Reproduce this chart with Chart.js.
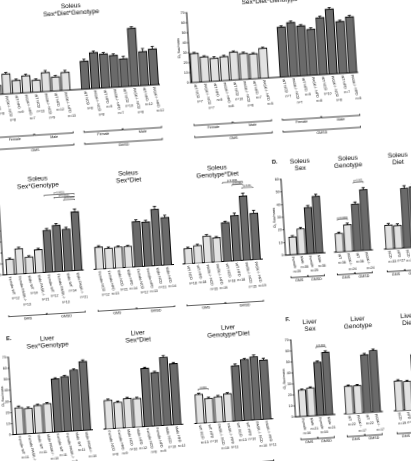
<!DOCTYPE html>
<html><head><meta charset="utf-8">
<script src="https://cdn.jsdelivr.net/npm/chart.js@4.4.1/dist/chart.umd.min.js"></script>
<style>
html,body{margin:0;padding:0;background:#fff;overflow:hidden;width:411px;height:461px;}
#fig{position:absolute;left:0;top:0;width:411px;height:461px;transform-origin:205.5px 230.5px;transform:rotate(-3.5deg);}
#fig canvas{position:absolute;}
.letter{position:absolute;font:bold 5.5px 'Liberation Sans',Arial,sans-serif;color:#000;line-height:1;}
</style></head><body><div id="fig"></div>
<script>
// ---------- DATA ----------
// A: Soleus Sex*Diet*Genotype
const aLabels = ['WT NCD','PASK-/- NCD','WT HFD','PASK-/- HFD','WT NCD','PASK-/- NCD','WT HFD','PASK-/- HFD','WT NCD','PASK-/- NCD','WT HFD','PASK-/- HFD','WT NCD','PASK-/- NCD','WT HFD','PASK-/- HFD'];
const aN = ['n=8','n=8','n=9','n=7','n=13','n=9','n=12','n=13','n=8','n=8','n=9','n=7','n=10','n=8','n=12','n=12'];
const aSex = ['Female','Female','Female','Female','Male','Male','Male','Male','Female','Female','Female','Female','Male','Male','Male','Male'];
const aProtocol = ['GMS','GMS','GMS','GMS','GMS','GMS','GMS','GMS','GMSD','GMSD','GMSD','GMSD','GMSD','GMSD','GMSD','GMSD'];
const aValues = [9,20,13,17,12,19,14,18,28,36,34,32,28,58,34,36];
const aErrors = [1.2,1.5,1.2,1.5,1.2,2,1.5,2,2,1.5,1.5,1.5,2.5,1.5,3,2.5];

// B: Liver Sex*Diet*Genotype
const bLabels = aLabels.slice();
const bN = ['n=7','n=7','n=5','n=8','n=10','n=8','n=7','n=5','n=7','n=7','n=5','n=8','n=10','n=8','n=7','n=5'];
const bSex = aSex.slice();
const bProtocol = aProtocol.slice();
const bValues = [29,25,23,24,28,26,25,30,50,54,50,46,57,65,52,56];
const bErrors = [1,1,1.5,1.2,1,1.2,1,1,1.2,1.5,1.2,1.5,1.5,1.5,1.2,1.5];

// C: Soleus two-way
const sexGenoLabels = ['Female WT','Female PASK-/-','Male WT','Male PASK-/-','Female WT','Female PASK-/-','Male WT','Male PASK-/-'];
const sexDietLabels = ['Female NCD','Female HFD','Male NCD','Male HFD','Female NCD','Female HFD','Male NCD','Male HFD'];
const genoDietLabels = ['WT NCD','WT HFD','PASK-/- NCD','PASK-/- HFD','WT NCD','WT HFD','PASK-/- NCD','PASK-/- HFD'];
const protocol8 = ['GMS','GMS','GMS','GMS','GMSD','GMSD','GMSD','GMSD'];
const protocol4 = ['GMS','GMS','GMSD','GMSD'];

const c1N = ['n=12','n=13','n=14','n=21','n=12','n=13','n=14','n=21'];
const c1Values = [14,23,15,21,38,42,38,53];
const c1Errors = [1,1.2,1,1.2,1.5,1.5,1.5,2.5];
const c1Sig = [[4,7,69.5,'p<0.0001'],[5,7,67,'p<0.0001'],[6,7,64.5,'p<0.001']];

const c2N = ['n=12','n=13','n=21','n=14','n=12','n=13','n=21','n=14'];
const c2Values = [20,18.5,19,19,41,40,51,43];
const c2Errors = [1.2,1,1,1,1.5,1.5,2.5,2];

const c3N = ['n=18','n=18','n=15','n=19','n=18','n=18','n=15','n=19'];
const c3Values = [14,16,24,22,35,41,58,42];
const c3Errors = [1,1,1.2,1,1.2,2,2.5,2.5];
const c3Sig = [[4,6,71,'p<0.0001'],[5,6,68.5,'p<0.001'],[6,7,65.5,'p<0.01']];

// D: Soleus one-way
const sexLabels = ['Female','Male','Female','Male'];
const genoLabels = ['WT','PASK-/-','WT','PASK-/-'];
const dietLabels = ['NCD','HFD','NCD','HFD'];
const d1N = ['n=25','n=35','n=25','n=35'];
const d1Values = [14,20,36.5,45];
const d1Errors = [1,1,1.5,1.5];
const d2N = ['n=36','n=24','n=36','n=24'];
const d2Values = [14.5,21,37,48];
const d2Errors = [1,1.2,1.5,1.5];
const d2Sig = [[0,1,25.5,'p<0.0001'],[2,3,54,'p<0.001']];
const d3N = ['n=33','n=27','n=33','n=27'];
const d3Values = [18.7,18,47,48];
const d3Errors = [1.2,1.2,2,2];

// E: Liver two-way
const e1N = ['n=11','n=9','n=11','n=10','n=11','n=9','n=11','n=10'];
const e1Values = [24,23,25,26,48,49.5,55,62];
const e1Errors = [1.5,1,1,1,1,1,1,1.5];
const e2N = ['n=8','n=9','n=10','n=12','n=8','n=9','n=10','n=12'];
const e2Values = [25.8,23.4,26.4,25.8,52.5,48.3,61.5,55.2];
const e2Errors = [1,1,1,1,1,1,1.5,1];
const e3N = ['n=13','n=10','n=10','n=11','n=13','n=10','n=10','n=11'];
const e3Values = [26,22,23,25,50,55,57,53.5];
const e3Errors = [1,1,1,1,1.5,1,1.5,1.5];
const e3Sig = [[0,1,30.5,'0.004']];

// F: Liver one-way
const f1N = ['n=16','n=21','n=16','n=21'];
const f1Values = [24,25.5,48.5,57];
const f1Errors = [1,0.8,1,1.2];
const f1Sig = [[2,3,62,'p<0.001']];
const f2N = ['n=22','n=17','n=22','n=17'];
const f2Values = [25,25,52.7,56];
const f2Errors = [1,1,1,1.2];
const f3N = ['n=19','n=18','n=19','n=18'];
const f3Values = [27,26,50,52];
const f3Errors = [1,1,1,1];

const yTickMax70 = 70, yTickMax60 = 60;

// ---------- STYLE ----------
const FONT = "'Liberation Sans', Arial, sans-serif";
const LIGHT = '#e2e2e2', DARK = '#6a6a6a';
Chart.defaults.font.family = FONT;
Chart.defaults.color = '#000';
const fig = document.getElementById('fig');

function positions(protocol, gap){
  const xs=[]; let x=0;
  protocol.forEach((p,i)=>{ if(i>0 && gap && p!==protocol[i-1]) x+=1; xs.push(x); x+=1; });
  return xs;
}
function runs(keys){
  const out=[];
  keys.forEach((k,i)=>{ const l=out[out.length-1]; if(l && l.key===k) l.end=i; else out.push({key:k,start:i,end:i}); });
  return out;
}

function makePlugin(p, xs, slot){
  return {
    id:'panel'+Math.floor(Math.random()*1e9),
    afterDatasetsDraw(chart){
      const ctx=chart.ctx, y=chart.scales.y, meta=chart.getDatasetMeta(0);
      ctx.save(); ctx.strokeStyle='#000'; ctx.lineWidth=0.85;
      meta.data.forEach((el,i)=>{
        const top=y.getPixelForValue(p.values[i]+p.errors[i]);
        ctx.beginPath(); ctx.moveTo(el.x, el.y); ctx.lineTo(el.x, top);
        ctx.moveTo(el.x-1.6, top); ctx.lineTo(el.x+1.6, top); ctx.stroke();
      });
      ctx.restore();
    },
    afterDraw(chart){
      const ctx=chart.ctx, xS=chart.scales.x, yS=chart.scales.y, ca=chart.chartArea;
      ctx.save();
      ctx.fillStyle='#000'; ctx.textAlign='center'; ctx.textBaseline='middle';
      ctx.font='6.5px '+FONT;
      const cx=(ca.left+ca.right)/2;
      p.title.forEach((t,k)=>ctx.fillText(t, cx, ca.top+p.titleOff[k]));
      const ang=80*Math.PI/180;
      p.labels.forEach((t,i)=>{
        const px=xS.getPixelForValue(xs[i])-1;
        const py=ca.bottom+2;
        ctx.font='3.6px '+FONT;
        const w=ctx.measureText(t).width;
        ctx.save(); ctx.translate(px,py); ctx.rotate(ang);
        ctx.textAlign='left'; ctx.textBaseline='middle'; ctx.fillText(t,0,0); ctx.restore();
        const ex=px+Math.cos(ang)*w, ey=py+Math.sin(ang)*w;
        ctx.textAlign='center'; ctx.textBaseline='top'; ctx.font='3.4px '+FONT;
        ctx.fillText(p.n[i], ex+1.5, ey+1.8);
      });
      ctx.strokeStyle='#000'; ctx.lineWidth=0.7; ctx.font='3.6px '+FONT;
      p.brackets.forEach(br=>{
        runs(br.keys).forEach(r=>{
          const x1=xS.getPixelForValue(xs[r.start])-slot*0.45;
          const x2=xS.getPixelForValue(xs[r.end])+slot*0.45;
          const yy=ca.bottom+br.off;
          ctx.beginPath(); ctx.moveTo(x1,yy-1.5); ctx.lineTo(x1,yy); ctx.lineTo(x2,yy); ctx.lineTo(x2,yy-1.5); ctx.stroke();
          ctx.textAlign='center'; ctx.textBaseline='top';
          ctx.fillText(br.text(r.start), (x1+x2)/2, yy+1.2);
        });
      });
      (p.sig||[]).forEach(s=>{
        const x1=xS.getPixelForValue(s[0])-0.5, x2=xS.getPixelForValue(s[1])+0.5, yy=yS.getPixelForValue(s[2]);
        ctx.lineWidth=0.5;
        ctx.beginPath(); ctx.moveTo(x1,yy+1); ctx.lineTo(x1,yy); ctx.lineTo(x2,yy); ctx.lineTo(x2,yy+1); ctx.stroke();
        ctx.font='2.5px '+FONT; ctx.textAlign='center'; ctx.textBaseline='bottom';
        ctx.fillText(s[3], (x1+x2)/2, yy-0.3);
      });
      ctx.restore();
    }
  };
}

function makePanel(p){
  const yw = p.yAxis ? p.yw : 0;
  const pl=2, pt=28;
  const cl=p.L-pl-yw, ct=p.T-pt;
  const cw=Math.ceil(p.R-cl+3), ch=Math.ceil(p.B-ct+p.pb);
  const pr=cw-(p.R-cl), pb=ch-(p.B-ct);
  const cv=document.createElement('canvas');
  cv.width=cw; cv.height=ch;
  cv.style.left=cl+'px'; cv.style.top=ct+'px'; cv.style.width=cw+'px'; cv.style.height=ch+'px';
  fig.appendChild(cv);
  const xs=positions(p.protocol, p.gap);
  const slot=(p.R-p.L)/(p.xmax-p.xmin);
  new Chart(cv,{
    type:'bar',
    data:{datasets:[{
      data:p.values.map((v,i)=>({x:xs[i],y:v})),
      backgroundColor:p.protocol.map(c=>c==='GMS'?LIGHT:DARK),
      borderColor:'#000', borderWidth:0.9, barThickness:slot*p.barPct
    }]},
    options:{
      responsive:false, animation:false, devicePixelRatio:2,
      layout:{padding:{left:pl,right:pr,top:pt,bottom:pb}},
      plugins:{legend:{display:false},tooltip:{enabled:false},title:{display:false}},
      scales:{
        x:{type:'linear',offset:false,bounds:'data',min:p.xmin,max:p.xmax,ticks:{display:false},grid:{display:false,offset:false},
           border:{display:true,color:'#000',width:0.9},afterFit:s=>{s.height=0;}},
        y:{display:p.yAxis,min:0,max:p.ymax,
           ticks:{stepSize:10,font:{size:3.6,family:FONT},color:'#000',padding:0.8},
           grid:{drawOnChartArea:false,drawTicks:true,tickLength:1.5,color:'#000',lineWidth:0.7},
           border:{display:true,color:'#000',width:0.9},
           title:{display:true,text:'O₂ flux/mass',font:{size:3.6,family:FONT},color:'#000',padding:0},
           afterFit:s=>{s.width=yw;}}
      }
    },
    plugins:[makePlugin(p,xs,slot)]
  });
}

const ttlAB=[-14,-7], ttlCE=[-16.5,-9.5], ttlDF=[-17,-10];
const protoBracket = (proto)=>({keys:proto, text:i=>proto[i]});

makePanel({L:1.3,R:168.8,T:12,B:82,xmin:-0.5,xmax:16.5,gap:true,yAxis:true,yw:12,ymax:yTickMax70,barPct:0.85,pb:66,
  labels:aLabels,n:aN,protocol:aProtocol,values:aValues,errors:aErrors,title:['Soleus','Sex*Diet*Genotype'],titleOff:ttlAB,
  brackets:[{keys:aProtocol.map((c,i)=>c+aSex[i]),text:i=>aSex[i],off:43},{keys:aProtocol,text:i=>aProtocol[i],off:55}]});
makePanel({L:199.5,R:366.6,T:12,B:82,xmin:-0.5,xmax:16.5,gap:true,yAxis:true,yw:12,ymax:yTickMax70,barPct:0.85,pb:66,
  labels:bLabels,n:bN,protocol:bProtocol,values:bValues,errors:bErrors,title:['Liver','Sex*Diet*Genotype'],titleOff:ttlAB,
  brackets:[{keys:bProtocol.map((c,i)=>c+bSex[i]),text:i=>bSex[i],off:43},{keys:bProtocol,text:i=>bProtocol[i],off:55}]});

makePanel({L:1,R:80.9,T:184.6,B:262.3,xmin:-0.75,xmax:7.5,yAxis:true,yw:10,ymax:yTickMax70,barPct:0.82,pb:52,
  labels:sexGenoLabels,n:c1N,protocol:protocol8,values:c1Values,errors:c1Errors,sig:c1Sig,title:['Soleus','Sex*Genotype'],titleOff:ttlCE,
  brackets:[{...protoBracket(protocol8),off:42}]});
makePanel({L:92.2,R:171.7,T:184.6,B:262.3,xmin:-0.6,xmax:7.6,yAxis:false,ymax:yTickMax70,barPct:0.82,pb:52,
  labels:sexDietLabels,n:c2N,protocol:protocol8,values:c2Values,errors:c2Errors,title:['Soleus','Sex*Diet'],titleOff:ttlCE,
  brackets:[{...protoBracket(protocol8),off:42}]});
makePanel({L:181.2,R:260.7,T:184.6,B:262.3,xmin:-0.6,xmax:7.6,yAxis:false,ymax:yTickMax70,barPct:0.82,pb:52,
  labels:genoDietLabels,n:c3N,protocol:protocol8,values:c3Values,errors:c3Errors,sig:c3Sig,title:['Soleus','Genotype*Diet'],titleOff:ttlCE,
  brackets:[{...protoBracket(protocol8),off:42}]});

makePanel({L:284,R:323.7,T:184.2,B:260.1,xmin:-0.915,xmax:3.7,yAxis:true,yw:11,ymax:yTickMax60,barPct:0.88,pb:34,
  labels:sexLabels,n:d1N,protocol:protocol4,values:d1Values,errors:d1Errors,title:['Soleus','Sex'],titleOff:ttlDF,
  brackets:[{...protoBracket(protocol4),off:23}]});
makePanel({L:333.1,R:370.9,T:184.2,B:260.1,xmin:-0.6,xmax:3.6,yAxis:false,ymax:yTickMax60,barPct:0.86,pb:34,
  labels:genoLabels,n:d2N,protocol:protocol4,values:d2Values,errors:d2Errors,sig:d2Sig,title:['Soleus','Genotype'],titleOff:ttlDF,
  brackets:[{...protoBracket(protocol4),off:23}]});
makePanel({L:383.1,R:420.9,T:184.2,B:260.1,xmin:-0.6,xmax:3.6,yAxis:false,ymax:yTickMax60,barPct:0.86,pb:34,
  labels:dietLabels,n:d3N,protocol:protocol4,values:d3Values,errors:d3Errors,title:['Soleus','Diet'],titleOff:ttlDF,
  brackets:[{...protoBracket(protocol4),off:23}]});

makePanel({L:1,R:80.7,T:345,B:422.5,xmin:-0.75,xmax:7.6,yAxis:true,yw:10,ymax:yTickMax70,barPct:0.84,pb:52,
  labels:sexGenoLabels,n:e1N,protocol:protocol8,values:e1Values,errors:e1Errors,title:['Liver','Sex*Genotype'],titleOff:ttlCE,
  brackets:[{...protoBracket(protocol8),off:42}]});
makePanel({L:92.4,R:171.5,T:345,B:422.5,xmin:-0.6,xmax:7.6,yAxis:false,ymax:yTickMax70,barPct:0.84,pb:52,
  labels:sexDietLabels,n:e2N,protocol:protocol8,values:e2Values,errors:e2Errors,title:['Liver','Sex*Diet'],titleOff:ttlCE,
  brackets:[{...protoBracket(protocol8),off:42}]});
makePanel({L:182.7,R:260.8,T:345,B:422.5,xmin:-0.6,xmax:7.6,yAxis:false,ymax:yTickMax70,barPct:0.84,pb:52,
  labels:genoDietLabels,n:e3N,protocol:protocol8,values:e3Values,errors:e3Errors,sig:e3Sig,title:['Liver','Genotype*Diet'],titleOff:ttlCE,
  brackets:[{...protoBracket(protocol8),off:42}]});

makePanel({L:284,R:323.7,T:345,B:422,xmin:-0.915,xmax:3.7,yAxis:true,yw:11,ymax:yTickMax70,barPct:0.88,pb:34,
  labels:sexLabels,n:f1N,protocol:protocol4,values:f1Values,errors:f1Errors,sig:f1Sig,title:['Liver','Sex'],titleOff:ttlDF,
  brackets:[{...protoBracket(protocol4),off:23}]});
makePanel({L:333.1,R:370.9,T:345,B:422,xmin:-0.6,xmax:3.6,yAxis:false,ymax:yTickMax70,barPct:0.86,pb:34,
  labels:genoLabels,n:f2N,protocol:protocol4,values:f2Values,errors:f2Errors,title:['Liver','Genotype'],titleOff:ttlDF,
  brackets:[{...protoBracket(protocol4),off:23}]});
makePanel({L:383.1,R:420.9,T:345,B:422,xmin:-0.6,xmax:3.6,yAxis:false,ymax:yTickMax70,barPct:0.86,pb:34,
  labels:dietLabels,n:f3N,protocol:protocol4,values:f3Values,errors:f3Errors,title:['Liver','Diet'],titleOff:ttlDF,
  brackets:[{...protoBracket(protocol4),off:23}]});

[['D.',276,164],['E.',0,324],['F.',280,322]].forEach(([t,x,y])=>{
  const d=document.createElement('div'); d.className='letter'; d.textContent=t;
  d.style.left=x+'px'; d.style.top=y+'px'; fig.appendChild(d);
});
</script>
</body></html>
